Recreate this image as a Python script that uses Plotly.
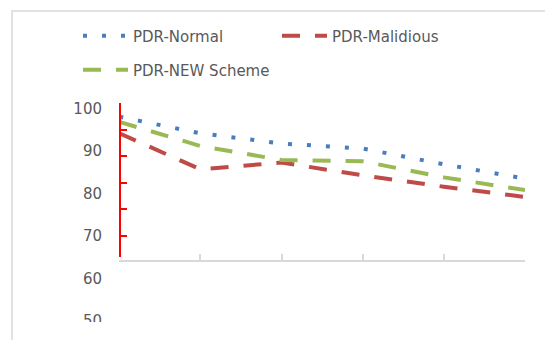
import plotly.graph_objects as go

# Packet delivery ratio (%) for six simulation steps
steps = [1, 2, 3, 4, 5, 6]
pdr_normal = [98.1, 94.2, 91.8, 90.6, 86.9, 83.5]
pdr_malicious = [94.2, 85.7, 87.3, 84.3, 81.6, 79.2]
pdr_new_scheme = [96.9, 91.2, 87.9, 87.6, 83.8, 80.8]
y_ticks = [50, 60, 70, 80, 90, 100]

W, H = 545, 340
FONT = "DejaVu Sans"
GREY_TXT = "#595959"
AXIS_GREY = "#d9d9d9"


def px_x(p):
    return p / W


def px_y(p):
    return 1 - p / H


fig = go.Figure()

fig.add_trace(go.Scatter(
    x=steps, y=pdr_normal, mode="lines", name="PDR-Normal",
    line=dict(color="#4a7ebb", width=4, dash="4px,15px"),
    legend="legend",
))
fig.add_trace(go.Scatter(
    x=steps, y=pdr_malicious, mode="lines", name="PDR-Malidious",
    line=dict(color="#be4b48", width=4, dash="18px,15px"),
    legend="legend",
))
fig.add_trace(go.Scatter(
    x=steps, y=pdr_new_scheme, mode="lines", name="PDR-NEW Scheme",
    line=dict(color="#98b954", width=4, dash="18px,15px"),
    legend="legend2",
))
# empty trace that carries the red vertical axis
fig.add_trace(go.Scatter(
    x=[None], y=[None], xaxis="x", yaxis="y2",
    showlegend=False, hoverinfo="skip",
))

legend_common = dict(
    orientation="h", xanchor="left", yanchor="middle",
    font=dict(family=FONT, size=15, color=GREY_TXT),
    itemwidth=45, bgcolor="rgba(0,0,0,0)",
)

fig.update_layout(
    width=W, height=H,
    margin=dict(l=0, r=0, t=0, b=0),
    paper_bgcolor="white",
    plot_bgcolor="rgba(0,0,0,0)",
    font=dict(family=FONT, size=15, color=GREY_TXT),
    xaxis=dict(
        domain=[px_x(119.3), px_x(525)],
        range=[steps[0], steps[-1]],
        anchor="free", position=px_y(261),
        showline=True, linecolor=AXIS_GREY, linewidth=2,
        ticks="inside", ticklen=6, tickwidth=1.5, tickcolor=AXIS_GREY,
        tickvals=steps, showticklabels=False,
        showgrid=False, zeroline=False, fixedrange=True,
    ),
    yaxis=dict(
        domain=[0, 1],
        range=[45.45, 125.64],
        anchor="free", position=px_x(102),
        tickvals=y_ticks, ticks="",
        tickfont=dict(family=FONT, size=15, color=GREY_TXT),
        showline=False, showgrid=False, zeroline=False, fixedrange=True,
        automargin=False,
    ),
    yaxis2=dict(
        domain=[px_y(256.7), px_y(103.3)],
        range=[42.1, 100],
        anchor="free", position=px_x(120),
        showline=True, linecolor="#ff0000", linewidth=2,
        ticks="inside", ticklen=6, tickwidth=1.5, tickcolor="#ff0000",
        tickvals=y_ticks, showticklabels=False,
        showgrid=False, zeroline=False, fixedrange=True,
    ),
    legend=dict(legend_common, x=px_x(78), y=px_y(36), entrywidth=139),
    legend2=dict(legend_common, x=px_x(78), y=px_y(70)),
    showlegend=True,
)

# light chart-area frame on the top and left
fig.add_shape(
    type="rect", xref="paper", yref="paper",
    x0=px_x(12), x1=1.05, y0=-0.05, y1=px_y(11),
    line=dict(color=AXIS_GREY, width=1.5), fillcolor="rgba(0,0,0,0)",
    layer="below",
)
# the chart area ends just below the top of the lowest tick label
fig.add_shape(
    type="rect", xref="paper", yref="paper",
    x0=px_x(40), x1=px_x(115), y0=-0.05, y1=px_y(322),
    line=dict(width=0), fillcolor="white", layer="above",
)

fig.write_html("out.html")
